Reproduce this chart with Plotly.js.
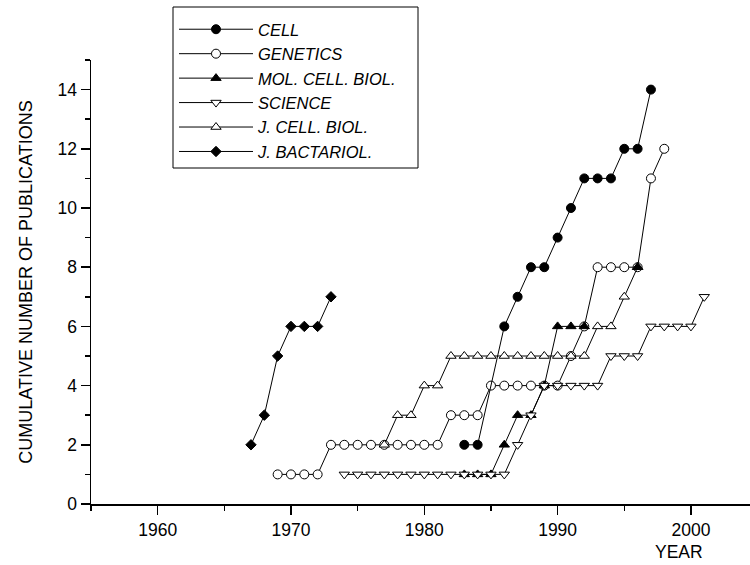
<!DOCTYPE html>
<html>
<head>
<meta charset="utf-8">
<script src="https://cdn.plot.ly/plotly-3.0.1.min.js"></script>
<style>html,body{margin:0;padding:0;background:#fff;}#chart{width:750px;height:565px;}</style>
</head>
<body>
<div id="chart"></div>
<script>
const cellYears = [1983,1984,1986,1987,1988,1989,1990,1991,1992,1993,1994,1995,1996,1997];
const cellValues = [2,2,6,7,8,8,9,10,11,11,11,12,12,14];

const geneticsYears = [1969,1970,1971,1972,1973,1974,1975,1976,1977,1978,1979,1980,1981,1982,1983,1984,1985,1986,1987,1988,1989,1990,1991,1992,1993,1994,1995,1996,1997,1998];
const geneticsValues = [1,1,1,1,2,2,2,2,2,2,2,2,2,3,3,3,4,4,4,4,4,4,5,6,8,8,8,8,11,12];

const molCellYears = [1983,1984,1985,1986,1987,1988,1989,1990,1991,1992,1993,1996];
const molCellValues = [1,1,1,2,3,3,4,6,6,6,null,8];

const scienceYears = [1974,1975,1976,1977,1978,1979,1980,1981,1982,1983,1984,1985,1986,1987,1988,1989,1990,1991,1992,1993,1994,1995,1996,1997,1998,1999,2000,2001];
const scienceValues = [1,1,1,1,1,1,1,1,1,1,1,1,1,2,3,4,4,4,4,4,5,5,5,6,6,6,6,7];

const jCellYears = [1977,1978,1979,1980,1981,1982,1983,1984,1985,1986,1987,1988,1989,1990,1991,1992,1993,1994,1995,1996];
const jCellValues = [2,3,3,4,4,5,5,5,5,5,5,5,5,5,5,5,6,6,7,8];

const jBactYears = [1967,1968,1969,1970,1971,1972,1973];
const jBactValues = [2,3,5,6,6,6,7];

const seriesNames = ['CELL','GENETICS','MOL. CELL. BIOL.','SCIENCE','J. CELL. BIOL.','J. BACTARIOL.'];

const FONT = 'Liberation Sans, Arial, sans-serif';
const lineStyle = {color:'#000', width:1};
function mk(symbol, fill, size){
  return {symbol:symbol, size:size, color:fill, line:{color:'#000', width:1}};
}

const traces = [
  {x:geneticsYears, y:geneticsValues, name:seriesNames[1], legendrank:2, mode:'lines+markers', line:lineStyle, marker:mk('circle','#fff',9)},
  {x:jCellYears, y:jCellValues, name:seriesNames[4], legendrank:5, mode:'lines+markers', line:lineStyle, marker:mk('triangle-up','#fff',9)},
  {x:molCellYears, y:molCellValues, name:seriesNames[2], legendrank:3, mode:'lines+markers', connectgaps:false, line:lineStyle, marker:mk('triangle-up','#000',9)},
  {x:scienceYears, y:scienceValues, name:seriesNames[3], legendrank:4, mode:'lines+markers', line:lineStyle, marker:mk('triangle-down','#fff',9)},
  {x:cellYears, y:cellValues, name:seriesNames[0], legendrank:1, mode:'lines+markers', line:lineStyle, marker:mk('circle','#000',9)},
  {x:jBactYears, y:jBactValues, name:seriesNames[5], legendrank:6, mode:'lines+markers', line:lineStyle, marker:mk('diamond','#000',8)}
];

const PL = 91, PT = 60, PB = 504, PW = 659, PH = 444;
const px = v => (v - PL) / PW;
const py = v => (PB - v) / PH;

const layout = {
  width:750, height:565,
  paper_bgcolor:'#fff', plot_bgcolor:'#fff',
  margin:{l:PL, r:0, t:PT, b:565-PB, autoexpand:false},
  font:{family:FONT, size:17.5, color:'#000'},
  showlegend:true,
  legend:{
    x:px(174), y:py(12), xanchor:'left', yanchor:'top',
    bgcolor:'rgba(0,0,0,0)', borderwidth:0,
    itemwidth:74,
    font:{family:FONT, size:16.5, style:'italic', color:'#000'},
    tracegroupgap:0
  },
  shapes:[
    {type:'rect', xref:'paper', yref:'paper', x0:px(173), x1:px(418), y0:py(168), y1:py(7), line:{color:'#000', width:1}, fillcolor:'#fff', layer:'above'}
  ],
  xaxis:{
    range:[1955, 2004.43], showgrid:false, zeroline:false,
    showline:true, linecolor:'#000', linewidth:1.5,
    ticks:'outside', ticklen:9, tickwidth:1.5, tickcolor:'#000',
    tick0:1960, dtick:10,
    minor:{dtick:5, tick0:1955, ticks:'outside', ticklen:5, tickwidth:1.5, tickcolor:'#000'},
    tickfont:{family:FONT, size:17.5}
  },
  yaxis:{
    range:[0, 15], showgrid:false, zeroline:false,
    showline:true, linecolor:'#000', linewidth:1.5,
    ticks:'outside', ticklen:9, tickwidth:1.5, tickcolor:'#000',
    tick0:0, dtick:2,
    minor:{dtick:1, tick0:0, ticks:'outside', ticklen:5, tickwidth:1.5, tickcolor:'#000'},
    tickfont:{family:FONT, size:17.5},
    title:{text:'CUMULATIVE NUMBER OF PUBLICATIONS', font:{family:FONT, size:18}, standoff:20}
  },
  annotations:[
    {text:'YEAR', xref:'paper', yref:'paper', x:px(679), y:py(552), xanchor:'center', yanchor:'middle', showarrow:false, font:{family:FONT, size:17.5}}
  ]
};

Plotly.newPlot('chart', traces, layout, {displayModeBar:false, staticPlot:true});
</script>
</body>
</html>
